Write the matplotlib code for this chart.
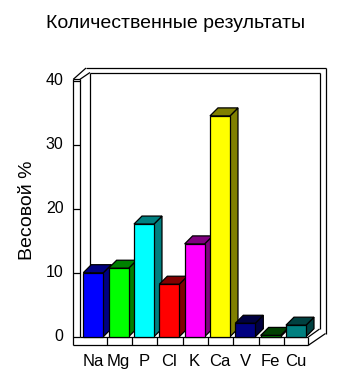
import matplotlib
matplotlib.use('Agg')
import matplotlib.pyplot as plt
from matplotlib.patches import Polygon, Rectangle

plt.rcParams['font.family'] = ['Liberation Sans', 'DejaVu Sans']

elements = ['Na', 'Mg', 'P', 'Cl', 'K', 'Ca', 'V', 'Fe', 'Cu']
values = [10.0, 10.7, 17.6, 8.2, 14.5, 34.5, 2.1, 0.2, 1.8]
front_colors = ['#0000ff', '#00ff00', '#00ffff', '#ff0000', '#ff00ff',
                '#ffff00', '#000080', '#008000', '#008080']
side_colors = ['#000080', '#008000', '#008080', '#800000', '#800080',
               '#808000', '#000040', '#004000', '#004040']
yticks = [0, 10, 20, 30, 40]

title = 'Количественные результаты'
ylabel = 'Весовой %'

fig = plt.figure(figsize=(3.54, 3.92), dpi=100)
ax = fig.add_axes([81.3 / 354, 55.3 / 392, 228 / 354, 256 / 392])
ax.set_xlim(-0.5, 8.5)
ax.set_ylim(0, 40)
ax.axis('off')

lw = 0.9
k = 'black'

# depth offset of the bars (data units)
dx, dy = 0.316, 1.25
w = 0.79

# walls and floor
def line(xs, ys):
    ax.plot(xs, ys, color=k, lw=lw, clip_on=False, zorder=1,
            solid_capstyle='butt')

line([-0.816, -0.816], [-1.34, 40.22])          # left wall outer
line([-0.816, -0.551], [40.22, 40.22])          # left wall top
line([-0.551, -0.551], [40.22, -0.05])          # left wall inner
line([-0.816, -0.314], [40.22, 41.98])          # outer slant
line([-0.551, -0.157], [40.22, 41.28])          # inner slant
line([-0.314, 9.141], [41.98, 41.98])           # back outer top
line([-0.157, 8.904], [41.28, 41.28])           # back inner top
line([9.141, 9.141], [41.98, 0.5])              # back outer right
line([8.904, 8.904], [41.28, 1.2])              # back inner right
line([-0.157, -0.157], [41.28, 1.2])            # back inner left
line([8.462, 9.141], [-1.34, 0.5])              # floor slant outer
line([8.462, 8.904], [-0.05, 1.2])              # floor slant inner
line([-0.551, 8.462], [-0.05, -0.05])           # floor top front
line([-0.816, 8.462], [-1.34, -1.34])           # floor bottom
line([8.462, 8.462], [-0.05, -1.34])
for i in range(len(elements) - 1):
    line([i + 0.5, i + 0.5], [-0.05, -1.34])

# y ticks
for t in yticks:
    line([-0.816, -0.551], [t, t])
    ax.text(-1.2, t, str(t), ha='right', va='center', fontsize=11.5,
            clip_on=False)

# bars
for i, (v, fc, sc) in enumerate(zip(values, front_colors, side_colors)):
    x0 = i - 0.421
    ax.add_patch(Polygon([(x0 + w, 0), (x0 + w + dx, dy), (x0 + w + dx, v + dy),
                          (x0 + w, v)], closed=True, facecolor=sc,
                         edgecolor=k, lw=lw, clip_on=False, zorder=3))
    ax.add_patch(Polygon([(x0, v), (x0 + dx, v + dy), (x0 + w + dx, v + dy),
                          (x0 + w, v)], closed=True, facecolor=sc,
                         edgecolor=k, lw=lw, clip_on=False, zorder=3))
    ax.add_patch(Rectangle((x0, 0), w, v, facecolor=fc, edgecolor=k, lw=lw,
                           clip_on=False, zorder=4))
    ax.text(i - 0.026, -3.95, elements[i], ha='center', va='center',
            fontsize=12, clip_on=False)

fig.text(0.497, 0.941, title, ha='center', va='center', fontsize=14)
fig.text(0.079, 0.464, ylabel, ha='center', va='center', rotation=90,
         fontsize=14)

fig.savefig('out.png', dpi=100)
